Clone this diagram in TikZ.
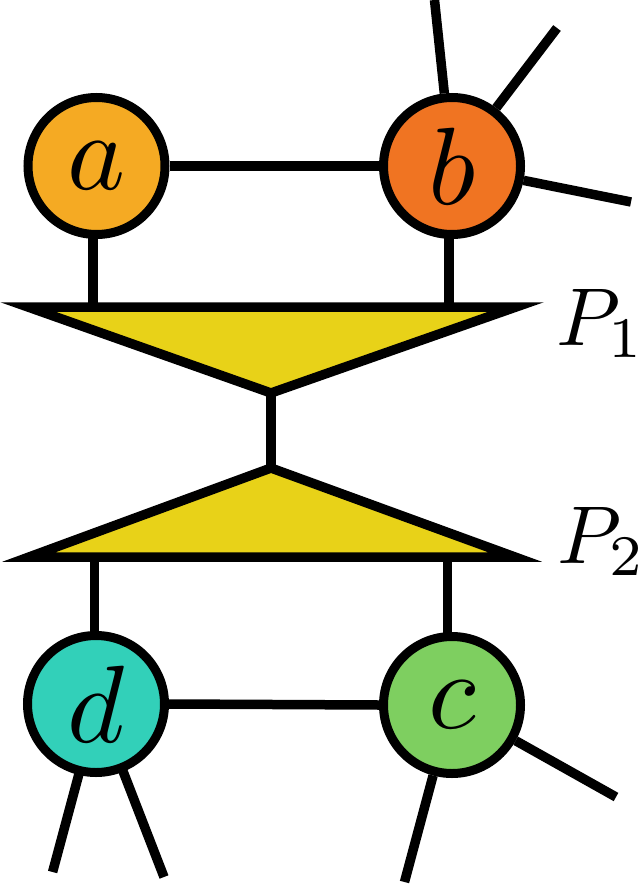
\documentclass[tikz,border=0pt]{standalone}
\definecolor{ca}{RGB}{245,170,35}
\definecolor{cb}{RGB}{240,116,34}
\definecolor{cd}{RGB}{50,208,185}
\definecolor{cc}{RGB}{126,207,96}
\definecolor{tri}{RGB}{232,210,24}
\newcommand{\bigtxt}[1]{\scalebox{11}{$#1$}}
\newcommand{\labtxt}[1]{\scalebox{8.2}{$#1$}}
\begin{document}
\begin{tikzpicture}[x=1pt,y=-1pt,
  wire/.style={line width=9.5pt},
  tens/.style={circle,draw,line width=9pt,minimum size=137pt,inner sep=0pt},
  trinode/.style={draw,line width=9.5pt,fill=tri,line join=miter},
  lab/.style={anchor=base west,inner sep=0pt}]
\useasboundingbox (0,0) rectangle (643,885);
% tensors
\node[tens,fill=ca] (a) at (96.5,166) {\bigtxt{a}};
\node[tens,fill=cb] (b) at (452,166) {\bigtxt{b}};
\node[tens,fill=cd] (d) at (96,704) {\bigtxt{d}};
\node[tens,fill=cc] (c) at (452,705) {\bigtxt{c}};
% triangle vertices
\coordinate (p1l) at (28,307);
\coordinate (p1r) at (516,307);
\coordinate (p1t) at (271,393);
\coordinate (p2t) at (271,468);
\coordinate (p2l) at (29,557);
\coordinate (p2r) at (515,557);
% horizontal bonds
\draw[wire] (a.east) -- (b.west);
\draw[wire] (d.east) -- (c.west);
% vertical bonds
\coordinate (av) at (93,233);
\coordinate (bv) at (449,233);
\coordinate (dv) at (94.5,637);
\coordinate (cv) at (447.5,637);
\draw[wire] (av) -- (av |- p1l);
\draw[wire] (bv) -- (bv |- p1l);
\draw[wire] (dv) -- (dv |- p2l);
\draw[wire] (cv) -- (cv |- p2l);
\draw[wire] (p1t) -- (p2t);
% triangles
\draw[trinode] (p1l) -- (p1r) -- (p1t) -- cycle;
\draw[trinode] (p2t) -- (p2r) -- (p2l) -- cycle;
% open legs
\coordinate (e1) at (434.5,0);
\coordinate (e2) at (557,28);
\coordinate (e3) at (631,202);
\coordinate (e4) at (52.6,872);
\coordinate (e5) at (164,877);
\coordinate (e6) at (404.5,882);
\coordinate (e7) at (616,797);
\coordinate (d1) at (80,770);
\coordinate (d2) at (121,766);
\draw[wire] (b) -- (e1);
\draw[wire] (b) -- (e2);
\draw[wire] (b) -- (e3);
\draw[wire] (d1) -- (e4);
\draw[wire] (d2) -- (e5);
\draw[wire] (c) -- (e6);
\draw[wire] (c) -- (e7);
% labels
\node[lab] (l1) at (556,345) {\labtxt{P_1}};
\node[lab] (l2) at (557,563) {\labtxt{P_2}};
\end{tikzpicture}
\end{document}
